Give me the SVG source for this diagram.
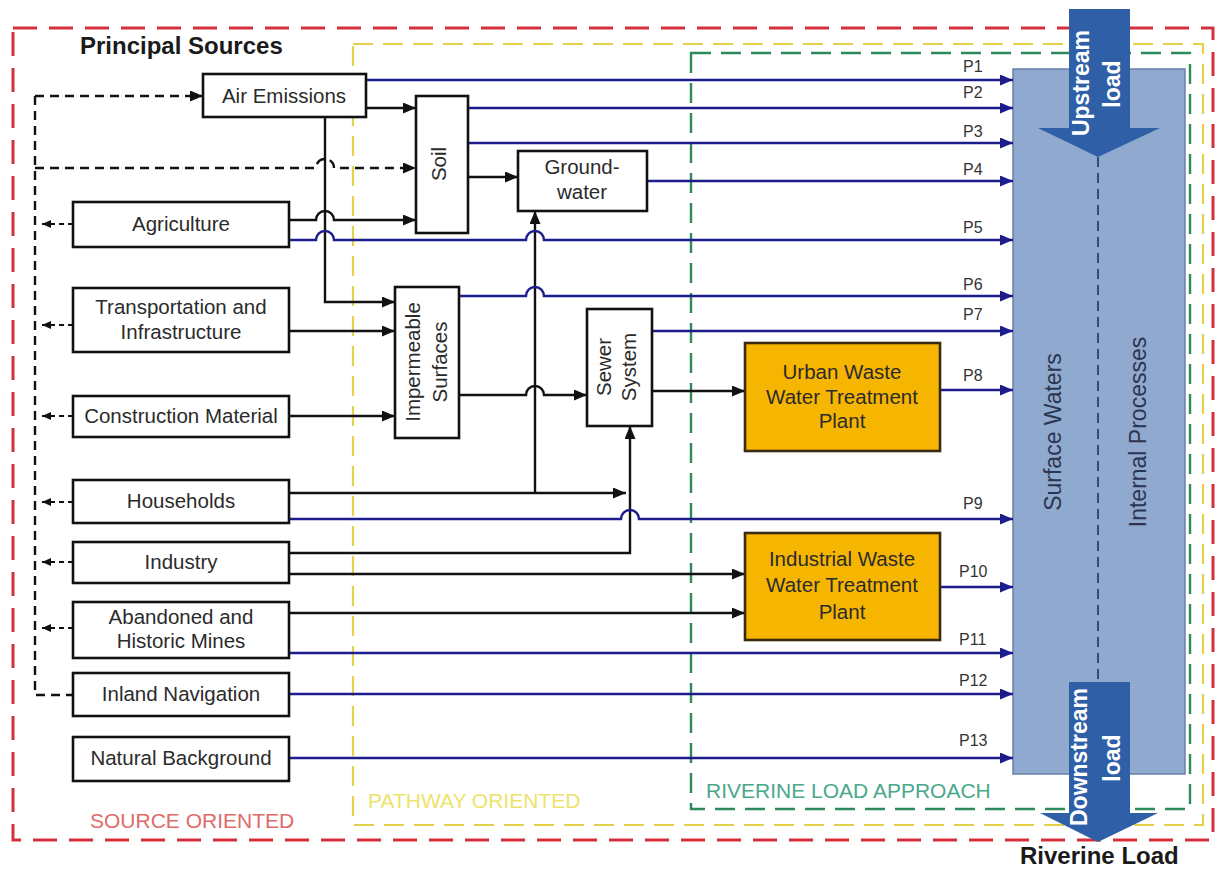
<svg xmlns="http://www.w3.org/2000/svg" width="1221" height="870" viewBox="0 0 1221 870">
<style>
.bg{fill:#ffffff}
.node{fill:#ffffff;stroke:#111;stroke-width:2.6}
.plant{fill:#f6b500;stroke:#3a2a10;stroke-width:2.6}
.t{font-family:"Liberation Sans",Arial,sans-serif;font-size:20.5px;fill:#2b2b2b;text-anchor:middle}
.pl{font-family:"Liberation Sans",Arial,sans-serif;font-size:16px;fill:#333}
.blk{fill:none;stroke:#111;stroke-width:2.4;marker-end:url(#ab)}
.blu{fill:none;stroke:#1c1c8c;stroke-width:2.4;marker-end:url(#an)}
.dsh{fill:none;stroke:#111;stroke-width:2.4;stroke-dasharray:9,6}
.lft{fill:none;stroke:#111;stroke-width:2;stroke-dasharray:5,4;marker-end:url(#as)}
.reg{font-family:"Liberation Sans",Arial,sans-serif;font-size:21px}
.bold{font-family:"Liberation Sans",Arial,sans-serif;font-weight:bold}
.sw{font-family:"Liberation Sans",Arial,sans-serif;font-size:23px;fill:#2c3550;text-anchor:middle}
</style>
<defs>
<marker id="ab" markerUnits="userSpaceOnUse" markerWidth="13" markerHeight="11" refX="13" refY="5.5" orient="auto"><path d="M0,0 L13,5.5 L0,11 z" fill="#111"/></marker>
<marker id="an" markerUnits="userSpaceOnUse" markerWidth="13" markerHeight="11" refX="13" refY="5.5" orient="auto"><path d="M0,0 L13,5.5 L0,11 z" fill="#1c1c8c"/></marker>
<marker id="as" markerUnits="userSpaceOnUse" markerWidth="9" markerHeight="8" refX="9" refY="4" orient="auto"><path d="M0,0 L9,4 L0,8 z" fill="#111"/></marker>
</defs>
<rect class="bg" x="0" y="0" width="1221" height="870"/>

<g id="regions">
<rect x="13" y="28" width="1200" height="812" fill="none" stroke="#d6303c" stroke-width="3" stroke-dasharray="24,12"/>
<rect x="353" y="44" width="850" height="781" fill="none" stroke="#e6d24a" stroke-width="2.2" stroke-dasharray="20,10"/>
<rect x="691" y="53" width="499" height="756" fill="none" stroke="#2e8a5a" stroke-width="2.4" stroke-dasharray="20,10"/>
<text class="reg" x="90" y="828" fill="#e06a6a">SOURCE ORIENTED</text>
<text class="reg" x="368" y="808" fill="#ece46a">PATHWAY ORIENTED</text>
<text class="reg" x="706" y="798" fill="#4aa88a">RIVERINE LOAD APPROACH</text>
<text class="bold" x="80" y="54" font-size="24" fill="#1a1a1a">Principal Sources</text>
<text class="bold" x="1020" y="864" font-size="24" fill="#1a1a1a">Riverine Load</text>
</g>

<g id="surface-waters">
<rect x="1013" y="69" width="172" height="705" fill="#8fa9cf" stroke="#6a80a8" stroke-width="1.5"/>
<line x1="1098" y1="157" x2="1098" y2="682" stroke="#1c2a5c" stroke-width="1.5" stroke-dasharray="10,6"/>
<text class="sw" transform="translate(1053,432) rotate(-90)" y="8">Surface Waters</text>
<text class="sw" transform="translate(1140,432) rotate(-90)" y="6">Internal Processes</text>
</g>

<g id="upstream-load">
<path d="M1069,9 H1130 V128 H1160 L1098,157 L1038,128 H1069 Z" fill="#2f5fa7"/>
<text class="bold" transform="translate(1089,83) rotate(-90)" text-anchor="middle" font-size="23" fill="#ffffff">Upstream</text>
<text class="bold" transform="translate(1120,84) rotate(-90)" text-anchor="middle" font-size="23" fill="#ffffff">load</text>
</g>

<g id="downstream-load">
<path d="M1069,682 H1130 V813 H1158 L1098,842 L1040,813 H1069 Z" fill="#2f5fa7"/>
<text class="bold" transform="translate(1087,757) rotate(-90)" text-anchor="middle" font-size="23" fill="#ffffff">Downstream</text>
<text class="bold" transform="translate(1120,758) rotate(-90)" text-anchor="middle" font-size="23" fill="#ffffff">load</text>
</g>

<g id="connectors">
<path class="dsh" d="M35,96 V695 H73"/>
<path class="dsh" d="M35,96 H203" marker-end="url(#ab)"/>
<path class="dsh" d="M35,168 H316 A9,9 0 0 1 334,168 H416" marker-end="url(#ab)"/>
<path class="lft" d="M73,224 H42"/>
<path class="lft" d="M73,325 H42"/>
<path class="lft" d="M73,416 H42"/>
<path class="lft" d="M73,502 H42"/>
<path class="lft" d="M73,562 H42"/>
<path class="lft" d="M73,628 H42"/>
<path class="blk" d="M366,108 H416"/>
<path class="blk" d="M325,117 V302 H395"/>
<path class="blk" d="M289,220 H316 A9,9 0 0 1 334,220 H416"/>
<path class="blk" d="M468,177 H518"/>
<path class="blk" d="M289,331 H395"/>
<path class="blk" d="M289,416 H395"/>
<path class="blk" d="M459,395 H526 A9,9 0 0 1 544,395 H587"/>
<path class="blk" d="M289,493 H626"/>
<path class="blk" d="M535,493 V211"/>
<path class="blk" d="M289,553 H630 V426"/>
<path class="blk" d="M289,574 H745"/>
<path class="blk" d="M289,613 H745"/>
<path class="blk" d="M652,391 H745"/>
<path class="blu" d="M366,80 H1013"/>
<path class="blu" d="M468,108 H1013"/>
<path class="blu" d="M468,143 H1013"/>
<path class="blu" d="M647,181 H1013"/>
<path class="blu" d="M289,240 H316 A9,9 0 0 1 334,240 H526 A9,9 0 0 1 544,240 H1013"/>
<path class="blu" d="M459,296 H526 A9,9 0 0 1 544,296 H1013"/>
<path class="blu" d="M652,331 H1013"/>
<path class="blu" d="M940,390 H1013"/>
<path class="blu" d="M289,519 H621 A9,9 0 0 1 639,519 H1013"/>
<path class="blu" d="M940,587 H1013"/>
<path class="blu" d="M289,653 H1013"/>
<path class="blu" d="M289,694 H1013"/>
<path class="blu" d="M289,758 H1013"/>
<text class="pl" x="963" y="72">P1</text>
<text class="pl" x="963" y="98">P2</text>
<text class="pl" x="963" y="137">P3</text>
<text class="pl" x="963" y="175">P4</text>
<text class="pl" x="963" y="233">P5</text>
<text class="pl" x="963" y="290">P6</text>
<text class="pl" x="963" y="320">P7</text>
<text class="pl" x="963" y="381">P8</text>
<text class="pl" x="963" y="509">P9</text>
<text class="pl" x="959" y="577">P10</text>
<text class="pl" x="959" y="645">P11</text>
<text class="pl" x="959" y="686">P12</text>
<text class="pl" x="959" y="746">P13</text>
</g>

<g id="air-emissions"><rect class="node" x="203" y="74" width="163" height="43"/><text class="t" x="284" y="103">Air Emissions</text></g>
<g id="agriculture"><rect class="node" x="73" y="202" width="216" height="45"/><text class="t" x="181" y="231">Agriculture</text></g>
<g id="transportation"><rect class="node" x="73" y="288" width="216" height="64"/><text class="t" x="181" y="314">Transportation and</text><text class="t" x="181" y="339">Infrastructure</text></g>
<g id="construction"><rect class="node" x="73" y="396" width="216" height="41"/><text class="t" x="181" y="423">Construction Material</text></g>
<g id="households"><rect class="node" x="73" y="480" width="216" height="43"/><text class="t" x="181" y="508">Households</text></g>
<g id="industry"><rect class="node" x="73" y="542" width="216" height="41"/><text class="t" x="181" y="569">Industry</text></g>
<g id="mines"><rect class="node" x="73" y="602" width="216" height="56"/><text class="t" x="181" y="624">Abandoned and</text><text class="t" x="181" y="648">Historic Mines</text></g>
<g id="inland-navigation"><rect class="node" x="73" y="673" width="216" height="43"/><text class="t" x="181" y="701">Inland Navigation</text></g>
<g id="natural-background"><rect class="node" x="73" y="737" width="216" height="44"/><text class="t" x="181" y="765">Natural Background</text></g>
<g id="soil"><rect class="node" x="416" y="96" width="52" height="137"/><text class="t" transform="translate(442,164) rotate(-90)" y="4">Soil</text></g>
<g id="groundwater"><rect class="node" x="518" y="151" width="129" height="60"/><text class="t" x="582" y="174">Ground-</text><text class="t" x="582" y="199">water</text></g>
<g id="impermeable-surfaces"><rect class="node" x="395" y="287" width="64" height="151"/><text class="t" transform="translate(427,362) rotate(-90)" y="-7">Impermeable</text><text class="t" transform="translate(427,362) rotate(-90)" y="20">Surfaces</text></g>
<g id="sewer-system"><rect class="node" x="587" y="309" width="65" height="117"/><text class="t" transform="translate(619,367) rotate(-90)" y="-8">Sewer</text><text class="t" transform="translate(619,367) rotate(-90)" y="17">System</text></g>
<g id="urban-wwtp"><rect class="plant" x="745" y="343" width="195" height="108"/><text class="t" x="842" y="379">Urban Waste</text><text class="t" x="842" y="404">Water Treatment</text><text class="t" x="842" y="428">Plant</text></g>
<g id="industrial-wwtp"><rect class="plant" x="745" y="533" width="195" height="107"/><text class="t" x="842" y="566">Industrial Waste</text><text class="t" x="842" y="592">Water Treatment</text><text class="t" x="842" y="619">Plant</text></g>
</svg>
